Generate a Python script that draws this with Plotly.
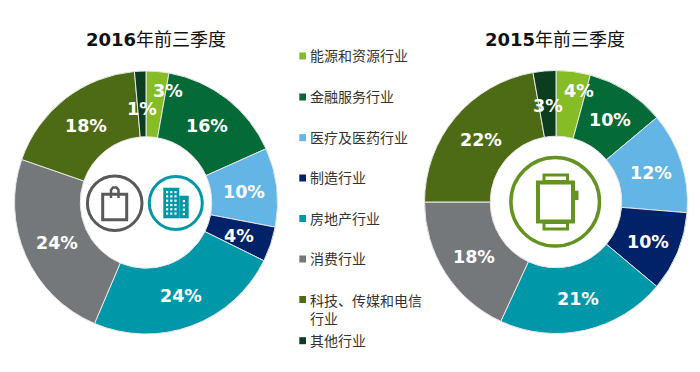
import plotly.graph_objects as go

W, H = 700, 372

categories = ["能源和资源行业", "金融服务行业", "医疗及医药行业", "制造行业", "房地产行业", "消费行业", "科技、传媒和电信<br>行业", "其他行业"]
values_2016 = [2.8, 15.5, 9.7, 4.3, 24.1, 23.9, 18.3, 1.4]
values_2015 = [4.2, 9.7, 12.4, 9.8, 20.8, 18.1, 22.2, 2.8]
title_2016 = "2016"
title_2015 = "2015"
title_suffix = "年前三季度"

colors = ["#86BC25", "#046A38", "#62B5E5", "#012169", "#0097A9", "#75787B", "#4D6B14", "#0B3D1E"]

label_pos_2016 = [(168.3, 91), (207.3, 125.7), (244.3, 192.3), (239.3, 236), (180.7, 296), (56.7, 243.3), (85.7, 125.7), (142.3, 109)]
label_pos_2015 = [(579.3, 91), (610, 120), (651, 173.3), (648.3, 241.7), (578.3, 299.3), (474, 256.7), (481.3, 140), (548, 106)]
legend_y = [55, 96, 136.7, 177, 217.5, 258, 309, 339.7]
legend_marker_y = [56, 97, 137.7, 178, 218.5, 259, 299.5, 340.7]

def px(x): return x / W
def py(y): return 1 - y / H

def pie(values, cx, cy, r):
    return go.Pie(
        values=values, labels=[c.replace("<br>", "") for c in categories], sort=False,
        direction="clockwise", rotation=0, hole=0.5, textinfo="none", hoverinfo="skip",
        showlegend=False, marker=dict(colors=colors, line=dict(color="#E6E6E6", width=1)),
        domain=dict(x=[px(cx - r), px(cx + r)], y=[py(cy + r), py(cy - r)]),
    )

fig = go.Figure([pie(values_2016, 146, 202.5, 131.5), pie(values_2015, 556, 202, 131.5)])

ann = []
shapes = []

def text(x, y, s, size, color, family, anchor="center"):
    ann.append(dict(x=px(x), y=py(y), xref="paper", yref="paper", text=s, showarrow=False,
                    xanchor=anchor, yanchor="middle", align="left", borderpad=0,
                    font=dict(size=size, color=color, family=family)))

def rect(x0, y0, x1, y1, fill=None, line=None, lw=0):
    shapes.append(dict(type="rect", xref="paper", yref="paper", x0=px(x0), x1=px(x1), y0=py(y0), y1=py(y1),
                       fillcolor=fill or "rgba(0,0,0,0)", line=dict(color=line or "rgba(0,0,0,0)", width=lw)))

def circle(cx, cy, r, line, lw):
    shapes.append(dict(type="circle", xref="paper", yref="paper", x0=px(cx - r), x1=px(cx + r), y0=py(cy + r), y1=py(cy - r),
                       fillcolor="rgba(0,0,0,0)", line=dict(color=line, width=lw)))

def path(points, line, lw):
    d = "M " + " L ".join(f"{px(x):.5f},{py(y):.5f}" for x, y in points)
    shapes.append(dict(type="path", xref="paper", yref="paper", path=d, line=dict(color=line, width=lw)))

# titles
TF = "DejaVu Sans, Noto Sans CJK SC"
text(155.5, 37.5, f"<b>{title_2016}</b><span style='font-size:18px;font-family:Noto Sans CJK SC'>{title_suffix}</span>", 18, "#111111", TF)
text(554.5, 37.5, f"<b>{title_2015}</b><span style='font-size:18px;font-family:Noto Sans CJK SC'>{title_suffix}</span>", 18, "#111111", TF)

# slice labels
for vals, pos in ((values_2016, label_pos_2016), (values_2015, label_pos_2015)):
    for v, (x, y) in zip(vals, pos):
        text(x, y, f"<b>{round(v)}%</b>", 17.5, "#FFFFFF", "DejaVu Sans")

# legend
for c, cat, ty, my in zip(colors, categories, legend_y, legend_marker_y):
    rect(299.3, my - 3.5, 306, my + 3.5, fill=c)
    text(309, ty, cat, 14, "#333333", "Noto Sans CJK SC", anchor="left")

# bag icon
GR = "#58595B"
circle(114.7, 203.2, 27.3, GR, 3)
rect(102.7, 194.3, 126.7, 219.7, line=GR, lw=3)
path([(111, 198), (111, 190), (113, 187.5), (116.5, 187.5), (118.5, 190), (118.5, 198)], GR, 2.5)

# building icon
TE = "#0097A9"
circle(175.8, 203, 26.5, TE, 3)
rect(163.3, 187.7, 179.3, 218.3, fill=TE)
rect(179.3, 195.7, 188.7, 218.3, fill=TE)
for i in range(6):
    for j in range(3):
        rect(166 + j * 4.2, 191 + i * 4.3, 168.2 + j * 4.2, 193.2 + i * 4.3, fill="#FFFFFF")
for i in range(4):
    rect(182.8, 200 + i * 4.3, 185, 202.2 + i * 4.3, fill="#FFFFFF")

# watch icon
GN = "#659321"
circle(555.2, 201.8, 44.3, GN, 3.5)
rect(538, 182.5, 573, 221.5, line=GN, lw=4)
rect(544, 175, 567.5, 181.5, line=GN, lw=3)
rect(544, 222.5, 567.5, 229, line=GN, lw=3)
rect(574.5, 190.7, 578.5, 200, fill=GN)

fig.update_layout(width=W, height=H, margin=dict(l=0, r=0, t=0, b=0), paper_bgcolor="#FFFFFF",
                  annotations=ann, shapes=shapes)
fig.write_html("out.html", config=dict(displayModeBar=False),
               post_script="document.body.style.margin='0';document.documentElement.style.overflow='hidden';")
